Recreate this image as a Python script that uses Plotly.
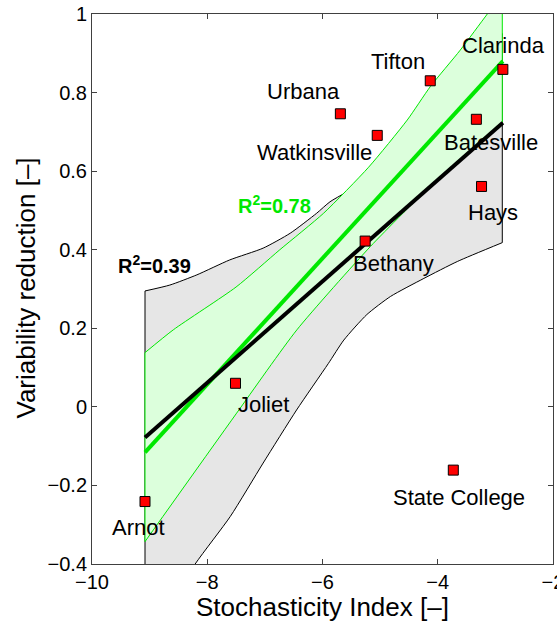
import numpy as np
import plotly.graph_objects as go

# ---- data ----
sites = ["Clarinda", "Tifton", "Urbana", "Watkinsville", "Batesville",
         "Hays", "Bethany", "Joliet", "Arnot", "State College"]
stoch_index = [-2.87, -4.13, -5.69, -5.05, -3.33, -3.24, -5.26, -7.51, -9.08, -3.73]
var_reduction = [0.859, 0.830, 0.746, 0.691, 0.732, 0.561, 0.422, 0.060, -0.241, -0.161]

# confidence band of the fit through all sites (grey)
grey_up_x = [-9.08, -8.65, -8.18, -7.61, -7.03, -6.56, -6.10, -5.87, -5.2, -4.5, -3.6, -2.88]
grey_up_y = [0.295, 0.310, 0.336, 0.374, 0.404, 0.442, 0.493, 0.522, 0.58, 0.68, 0.82, 0.95]
grey_lo_x = [-9.08, -8.21, -7.60, -7.03, -6.45, -5.90, -5.63, -5.23, -4.82, -4.24, -3.66, -2.88]
grey_lo_y = [-0.60, -0.40, -0.279, -0.143, -0.008, 0.11, 0.17, 0.235, 0.281, 0.327, 0.370, 0.418]

# confidence band of the fit without State College (green)
green_up_x = [-9.08, -8.59, -7.50, -6.74, -5.98, -5.20, -4.53, -4.13, -3.61, -3.14, -2.88]
green_up_y = [0.138, 0.196, 0.305, 0.400, 0.493, 0.61, 0.730, 0.815, 0.908, 1.0, 1.05]
green_lo_x = [-9.08, -7.49, -6.445, -5.17, -4.0, -2.88]
green_lo_y = [-0.343, -0.016, 0.196, 0.408, 0.58, 0.725]

x_ticks = [-10, -8, -6, -4, -2]
x_tick_text = ["\u221210", "\u22128", "\u22126", "\u22124", "\u22122"]
y_ticks = [-0.4, -0.2, 0, 0.2, 0.4, 0.6, 0.8, 1]
y_tick_text = ["\u22120.4", "\u22120.2", "0", "0.2", "0.4", "0.6", "0.8", "1"]

r2_all_text = "R<sup>2</sup>=0.39"
r2_sub_text = "R<sup>2</sup>=0.78"

# ---- styles ----
FONT = "Liberation Sans, Arial, Helvetica, sans-serif"
GREEN = "#00E800"
LIGHT_GREEN = "#DCFFDC"
GREY = "#E6E6E6"

# label offsets (pixels) relative to each marker
label_offsets = {
    "Clarinda": (1, 24), "Tifton": (-32, 19), "Urbana": (-37, 22),
    "Watkinsville": (-63, -17), "Batesville": (15, -23), "Hays": (11, -26),
    "Bethany": (28, -22), "Joliet": (28, -21), "Arnot": (-7, -26),
    "State College": (6, -27),
}

xs = np.array(stoch_index)
ys = np.array(var_reduction)
mask_sub = np.array([s != "State College" for s in sites])

# least-squares fits
p_all = np.polyfit(xs, ys, 1)
p_sub = np.polyfit(xs[mask_sub], ys[mask_sub], 1)
x_ends = np.array([xs.min(), xs.max()])

fig = go.Figure()

# grey band
fig.add_trace(go.Scatter(x=grey_lo_x, y=grey_lo_y, mode="lines",
                         line=dict(color="black", width=1, shape="spline", smoothing=0.6),
                         showlegend=False, hoverinfo="skip"))
fig.add_trace(go.Scatter(x=grey_up_x, y=grey_up_y, mode="lines", fill="tonexty",
                         fillcolor=GREY,
                         line=dict(color="black", width=1, shape="spline", smoothing=0.6),
                         showlegend=False, hoverinfo="skip"))
fig.add_trace(go.Scatter(x=[grey_lo_x[0], grey_up_x[0]], y=[grey_lo_y[0], grey_up_y[0]],
                         mode="lines", line=dict(color="black", width=1),
                         showlegend=False, hoverinfo="skip"))
fig.add_trace(go.Scatter(x=[grey_lo_x[-1], grey_up_x[-1]], y=[grey_lo_y[-1], grey_up_y[-1]],
                         mode="lines", line=dict(color="black", width=1),
                         showlegend=False, hoverinfo="skip"))

# green band
fig.add_trace(go.Scatter(x=green_lo_x, y=green_lo_y, mode="lines",
                         line=dict(color=GREEN, width=1, shape="spline", smoothing=0.6),
                         showlegend=False, hoverinfo="skip"))
fig.add_trace(go.Scatter(x=green_up_x, y=green_up_y, mode="lines", fill="tonexty",
                         fillcolor=LIGHT_GREEN,
                         line=dict(color=GREEN, width=1, shape="spline", smoothing=0.6),
                         showlegend=False, hoverinfo="skip"))
fig.add_trace(go.Scatter(x=[green_lo_x[0], green_up_x[0]], y=[green_lo_y[0], green_up_y[0]],
                         mode="lines", line=dict(color=GREEN, width=1),
                         showlegend=False, hoverinfo="skip"))
fig.add_trace(go.Scatter(x=[green_lo_x[-1], green_up_x[-1]], y=[green_lo_y[-1], green_up_y[-1]],
                         mode="lines", line=dict(color=GREEN, width=1),
                         showlegend=False, hoverinfo="skip"))

# regression lines
fig.add_trace(go.Scatter(x=x_ends, y=np.polyval(p_sub, x_ends), mode="lines",
                         line=dict(color=GREEN, width=4), showlegend=False))
fig.add_trace(go.Scatter(x=x_ends, y=np.polyval(p_all, x_ends), mode="lines",
                         line=dict(color="black", width=4), showlegend=False))

# site markers
fig.add_trace(go.Scatter(x=stoch_index, y=var_reduction, mode="markers",
                         marker=dict(symbol="square", size=10, color="red",
                                     line=dict(color="black", width=1)),
                         text=sites, showlegend=False))

annotations = []
for s, xv, yv in zip(sites, stoch_index, var_reduction):
    dx, dy = label_offsets[s]
    annotations.append(dict(x=xv, y=yv, xref="x", yref="y", text=s, showarrow=False,
                            xshift=dx, yshift=dy, xanchor="center", yanchor="middle",
                            font=dict(family=FONT, size=22, color="black")))

annotations.append(dict(x=0.395, y=0.653, xref="paper", yref="paper", text=r2_sub_text,
                        showarrow=False, xanchor="center", yanchor="middle",
                        font=dict(family=FONT, size=20, color=GREEN, weight="bold")))
annotations.append(dict(x=0.136, y=0.544, xref="paper", yref="paper", text=r2_all_text,
                        showarrow=False, xanchor="center", yanchor="middle",
                        font=dict(family=FONT, size=20, color="black", weight="bold")))

# axis titles
annotations.append(dict(x=0.5, y=-0.078, xref="paper", yref="paper",
                        text="Stochasticity Index [\u2013]", showarrow=False,
                        xanchor="center", yanchor="middle",
                        font=dict(family=FONT, size=26, color="black")))
annotations.append(dict(x=-0.143, y=0.501, xref="paper", yref="paper",
                        text="Variability reduction [\u2013]", showarrow=False,
                        textangle=-90, xanchor="center", yanchor="middle",
                        font=dict(family=FONT, size=26, color="black")))

axis_common = dict(showline=True, linecolor="#404040", linewidth=1, mirror="ticks",
                   ticks="inside", ticklen=5, tickcolor="#404040", showgrid=False,
                   zeroline=False, ticklabeloverflow="allow",
                   tickfont=dict(family=FONT, size=20, color="black"))

fig.update_layout(
    width=557, height=623,
    margin=dict(l=92, r=4, t=14, b=59, autoexpand=False),
    paper_bgcolor="white", plot_bgcolor="white",
    xaxis=dict(range=[-10, -2], tickvals=x_ticks, ticktext=x_tick_text, **axis_common),
    yaxis=dict(range=[-0.4, 1], tickvals=y_ticks, ticktext=y_tick_text, **axis_common),
    annotations=annotations,
    font=dict(family=FONT),
)

fig.write_html("out.html")
